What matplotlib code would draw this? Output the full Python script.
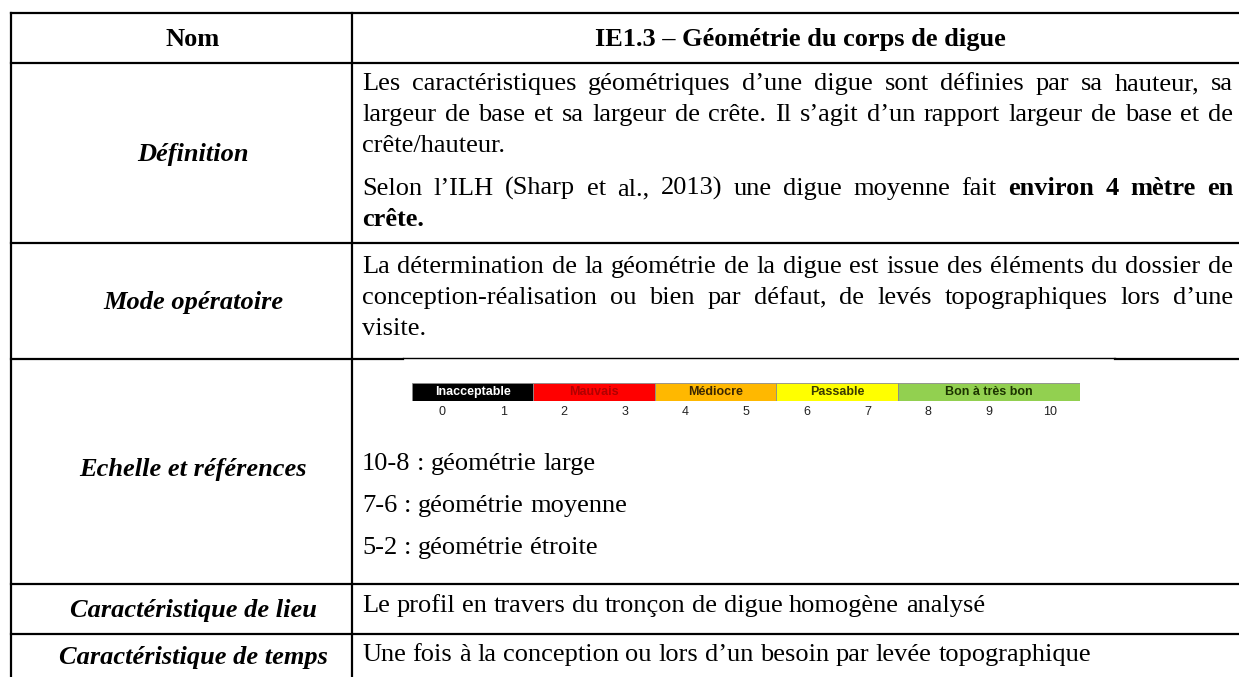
import matplotlib
matplotlib.use('Agg')
import matplotlib.pyplot as plt

# table content
header = ["Nom", "IE1.3 – Géométrie du corps de digue"]
row_labels = ["Définition", "Mode opératoire", "Echelle et références",
              "Caractéristique de lieu", "Caractéristique de temps"]

# each line: list of (text, bold); last flag says if the line is justified
definition_lines = [
    ([("Les caractéristiques géométriques d’une digue sont définies par sa hauteur, sa", False)], True),
    ([("largeur de base et sa largeur de crête. Il s’agit d’un rapport largeur de base et de", False)], True),
    ([("crête/hauteur.", False)], False),
    ([("Selon l’ILH (Sharp et al., 2013) une digue moyenne fait", False), ("environ 4 mètre en", True)], True),
    ([("crête.", True)], False),
]
mode_lines = [
    ([("La détermination de la géométrie de la digue est issue des éléments du dossier de", False)], True),
    ([("conception-réalisation ou bien par défaut, de levés topographiques lors d’une", False)], True),
    ([("visite.", False)], False),
]
echelle_lines = ["10-8 : géométrie large", "7-6 : géométrie moyenne", "5-2 : géométrie étroite"]
lieu_text = "Le profil en travers du tronçon de digue homogène analysé"
temps_text = "Une fois à la conception ou lors d’un besoin par levée topographique"

# rating scale
scale_names = ["Inacceptable", "Mauvais", "Médiocre", "Passable", "Bon à très bon"]
scale_start = [0, 2, 4, 6, 8]
scale_width = [2, 2, 2, 2, 3]
scale_colors = ["#000000", "#ff0000", "#ffb800", "#ffff00", "#92d050"]
scale_text_colors = ["#ffffff", "#b00000", "#3a2600", "#3a3a00", "#1c3300"]
scale_ticks = [0, 1, 2, 3, 4, 5, 6, 7, 8, 9, 10]

SERIF = "Liberation Serif"
FS = 19

fig = plt.figure(figsize=(12.39, 6.77), dpi=100)
ax = fig.add_axes([0, 0, 1, 1])
ax.set_xlim(0, 1239)
ax.set_ylim(677, 0)
ax.axis('off')
renderer = fig.canvas.get_renderer()


def width_of(s, bold):
    t = ax.text(0, 0, s, fontsize=FS, family=SERIF, weight='bold' if bold else 'normal')
    w = t.get_window_extent(renderer).width
    t.remove()
    return w


space_w = width_of("n n", False) - width_of("nn", False)


def draw_line(segments, justify, y, x0=362, x1=1233):
    words = []
    for txt, bold in segments:
        for w in txt.split(" "):
            words.append((w, bold))
    widths = [width_of(w, b) for w, b in words]
    if justify and len(words) > 1:
        gap = (x1 - x0 - sum(widths)) / (len(words) - 1)
    else:
        gap = space_w
    x = x0
    for (w, b), wd in zip(words, widths):
        ax.text(x, y, w, fontsize=FS, family=SERIF, weight='bold' if b else 'normal',
                ha='left', va='baseline')
        x += wd + gap


# grid lines
lw = 1.6
for y in [13, 63, 243, 584, 634]:
    ax.plot([11, 1239], [y, y], color='black', lw=lw)
ax.plot([11, 403], [359, 359], color='black', lw=lw)
ax.plot([403, 1115], [358, 358], color='black', lw=1.0)
ax.plot([1115, 1239], [359, 359], color='black', lw=lw)
ax.plot([11, 11], [13, 677], color='black', lw=lw)
ax.plot([352, 352], [13, 677], color='black', lw=lw)

# header
ax.text(193, 46, header[0], fontsize=FS, family=SERIF, weight='bold', ha='center', va='baseline')
ax.text(800, 46, header[1], fontsize=FS, family=SERIF, weight='bold', ha='center', va='baseline')

# left labels
label_y = [161, 309, 476, 617, 664]
for lab, y in zip(row_labels, label_y):
    ax.text(193, y, lab, fontsize=FS, family=SERIF, weight='bold', style='italic',
            ha='center', va='baseline')

# definition
for (segs, just), y in zip(definition_lines, [90, 121, 152, 195, 226]):
    draw_line(segs, just, y)

# mode operatoire
for (segs, just), y in zip(mode_lines, [273, 304, 335]):
    draw_line(segs, just, y)

# echelle
for txt, y in zip(echelle_lines, [470, 512, 554]):
    draw_line([(txt, False)], False, y)

draw_line([(lieu_text, False)], False, 612)
draw_line([(temps_text, False)], False, 661)

# colour scale picture
sax = fig.add_axes([412 / 1239, 1 - 401 / 677, 668 / 1239, 18 / 677])
sax.barh([0], scale_width, left=scale_start, height=1, color=scale_colors,
         edgecolor='#8a8a8a', linewidth=0.6)
for name, s, w, tc in zip(scale_names, scale_start, scale_width, scale_text_colors):
    sax.text(s + w / 2, 0, name, ha='center', va='center', fontsize=9,
             family='Liberation Sans', weight='bold', color=tc)
for t in scale_ticks:
    sax.text(t + 0.5, -1.1, str(t), ha='center', va='center', fontsize=9,
             family='Liberation Sans', color='#222222')
sax.set_xlim(0, 11)
sax.set_ylim(-0.5, 0.5)
sax.axis('off')

fig.savefig("out.png", dpi=100)
